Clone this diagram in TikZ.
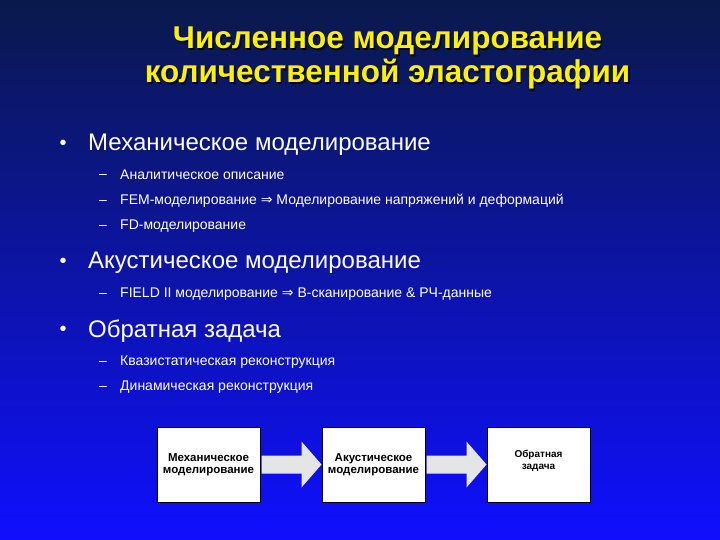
\documentclass[tikz,border=0pt]{standalone}
\usepackage{fontspec}
\setmainfont{Liberation Sans}
\newfontfamily\dejav{DejaVu Sans}
\newcommand{\imp}{{\dejav\char"21D2}}
\begin{document}
\begin{tikzpicture}[x=1pt,y=-1pt,
  lone/.style={anchor=west,text=white,font=\fontsize{24}{27}\selectfont,inner sep=0},
  ltwo/.style={anchor=west,text=white,font=\fontsize{14}{16}\selectfont,inner sep=0},
  bul/.style={anchor=center,text=white,font=\fontsize{20}{22}\selectfont,inner sep=0},
  dsh/.style={anchor=center,text=white,font=\fontsize{14}{16}\selectfont,inner sep=0},
  boxn/.style={draw=black,line width=1pt,fill=white,minimum width=103pt,minimum height=75pt,align=center,font=\bfseries\fontsize{11.5}{12.5}\selectfont,inner sep=1pt},
  barrow/.style={fill=gray!20,draw=none}]
\shade[top color={rgb,255:red,10;green,25;blue,75},bottom color={rgb,255:red,15;green,15;blue,255}] (0,0) rectangle (720,540);
\useasboundingbox (0,0) rectangle (720,540);
% title
\node[text=black,font=\bfseries\fontsize{31.5}{34}\selectfont,align=center] (tsh) at (389,59.5) {Численное моделирование\\количественной эластографии};
\node[text=yellow,font=\bfseries\fontsize{31.5}{34}\selectfont,align=center] (title) at (387.5,58) {Численное моделирование\\количественной эластографии};
% bullets
\node[bul] (b1) at (63,145) {•}; \node[lone] (t1) at (88,145) {Механическое моделирование};
\node[dsh] (d1) at (103,176) {–}; \node[ltwo] (s1) at (120,175) {Аналитическое описание};
\node[dsh] (d2) at (103,202) {–}; \node[ltwo] (s2) at (120,201) {FEM-моделирование \imp{} Моделирование напряжений и деформаций};
\node[dsh] (d3) at (103,227) {–}; \node[ltwo] (s3) at (120,226) {FD-моделирование};
\node[bul] (b2) at (63,263) {•}; \node[lone] (t2) at (88,263) {Акустическое моделирование};
\node[dsh] (d4) at (103,295) {–}; \node[ltwo] (s4) at (120,294) {FIELD II моделирование \imp{} B-сканирование \& РЧ-данные};
\node[bul] (b3) at (63,331) {•}; \node[lone] (t3) at (88,331) {Обратная задача};
\node[dsh] (d5) at (103,363) {–}; \node[ltwo] (s5) at (120,362) {Квазистатическая реконструкция};
\node[dsh] (d6) at (103,388) {–}; \node[ltwo] (s6) at (120,387) {Динамическая реконструкция};
% boxes
\node[boxn] (m) at (208.5,464.5) {Механическое\\моделирование};
\node[boxn] (a) at (373.5,464.5) {Акустическое\\моделирование};
\node[boxn] (o) at (538.5,464.5) {};
\node[align=center,font=\bfseries\fontsize{10}{12}\selectfont,inner sep=0] (ot) at (538.5,461) {Обратная\\задача};
% block arrows
\fill[barrow] (m.east) ++(1,-9) -- ++(40,0) -- ++(0,-14) -- ++(20,23) -- ++(-20,23) -- ++(0,-14) -- ++(-40,0) -- cycle;
\fill[barrow] (a.east) ++(1,-9) -- ++(40,0) -- ++(0,-14) -- ++(20,23) -- ++(-20,23) -- ++(0,-14) -- ++(-40,0) -- cycle;
\end{tikzpicture}
\end{document}
